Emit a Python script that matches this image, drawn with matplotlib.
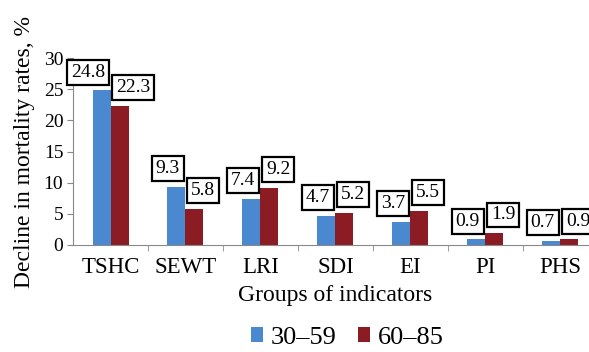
import matplotlib
matplotlib.use("Agg")
import matplotlib.pyplot as plt
import numpy as np

# data
groups = ["TSHC", "SEWT", "LRI", "SDI", "EI", "PI", "PHS"]
age_30_59 = [24.8, 9.3, 7.4, 4.7, 3.7, 0.9, 0.7]
age_60_85 = [22.3, 5.8, 9.2, 5.2, 5.5, 1.9, 0.9]
series_names = ["30\u201359", "60\u201385"]

plt.rcParams["font.family"] = ["Liberation Serif", "DejaVu Serif"]

fig = plt.figure(figsize=(5.89, 3.52), dpi=100)
# axis runs past the right edge, like the cropped original
ax = fig.add_axes([0.124, 0.304, 0.891, 0.531])

x = np.arange(len(groups))
w = 0.24
blue = "#4a88cf"
red = "#8c1c24"
b1 = ax.bar(x - w / 2, age_30_59, w, color=blue, label=series_names[0])
b2 = ax.bar(x + w / 2, age_60_85, w, color=red, label=series_names[1])

# boxed labels meet at the middle of each group
box = dict(boxstyle="square,pad=0.2", fc="white", ec="black", lw=1.6)
for xi, v in zip(x, age_30_59):
    ax.annotate(f"{v}", (xi, v), xytext=(-4, 7), textcoords="offset points",
                ha="right", va="bottom", fontsize=14, bbox=box)
for xi, v in zip(x, age_60_85):
    ax.annotate(f"{v}", (xi, v), xytext=(4, 7), textcoords="offset points",
                ha="left", va="bottom", fontsize=14, bbox=box)

ax.set_xlim(-0.5, len(groups) - 0.5)
ax.set_ylim(0, 30)
ax.set_yticks(range(0, 31, 5))
ax.set_xticks(x)
ax.set_xticklabels(groups, fontsize=16.5)
ax.set_xticks(np.arange(0.5, len(groups) - 0.5, 1), minor=True)
ax.tick_params(axis="x", which="major", length=0, pad=9)
ax.tick_params(axis="x", which="minor", length=4, color="#888888")
ax.tick_params(axis="y", labelsize=14, length=4, color="#888888", pad=3)

for s in ["top", "right"]:
    ax.spines[s].set_visible(False)
ax.spines["left"].set_color("#888888")
ax.spines["bottom"].set_color("#888888")

ax.set_xlabel("Groups of indicators", fontsize=17, labelpad=5)
ax.set_ylabel("Decline in mortality rates, %", fontsize=17, labelpad=6)

fig.legend(handles=[b1, b2], loc="center", bbox_to_anchor=(0.59, 0.04), ncol=2,
           frameon=False, fontsize=19, handlelength=0.45, handleheight=0.45,
           handletextpad=0.3, columnspacing=0.8, borderpad=0.2)

fig.savefig("out.png", dpi=100, facecolor="white")
